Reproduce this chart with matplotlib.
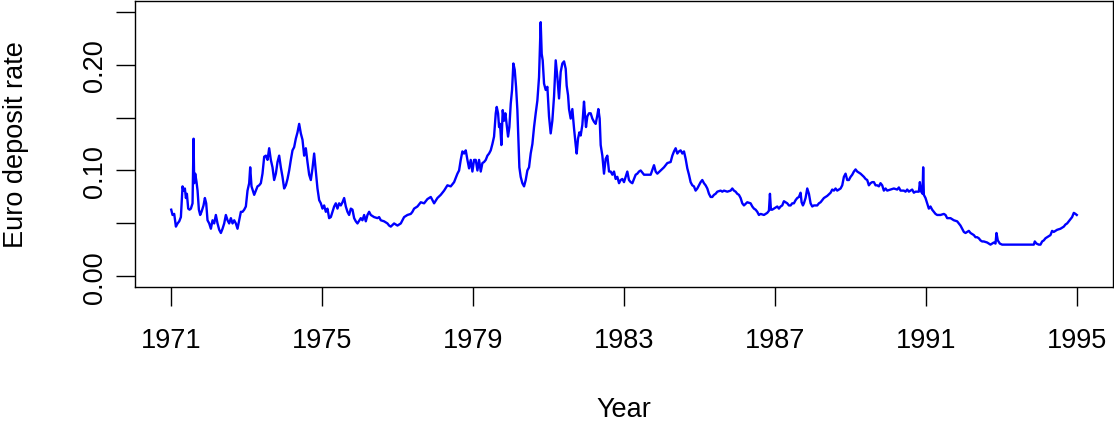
import matplotlib
matplotlib.use("Agg")
import matplotlib.pyplot as plt
import numpy as np

year = [
    1971.000, 1971.035, 1971.079, 1971.124, 1971.168, 1971.212, 1971.256, 1971.300,
    1971.327, 1971.362, 1971.389, 1971.415, 1971.450, 1971.486, 1971.521, 1971.565,
    1971.592, 1971.609, 1971.636, 1971.671, 1971.698, 1971.733, 1971.768, 1971.803,
    1971.856, 1971.892, 1971.927, 1971.962, 1972.007, 1972.051, 1972.095, 1972.139,
    1972.183, 1972.227, 1972.272, 1972.316, 1972.360, 1972.404, 1972.448, 1972.492,
    1972.536, 1972.581, 1972.625, 1972.669, 1972.713, 1972.757, 1972.801, 1972.846,
    1972.890, 1972.934, 1972.978, 1973.022, 1973.066, 1973.093, 1973.128, 1973.163,
    1973.199, 1973.243, 1973.287, 1973.331, 1973.375, 1973.419, 1973.464, 1973.508,
    1973.552, 1973.596, 1973.640, 1973.684, 1973.728, 1973.773, 1973.817, 1973.861,
    1973.905, 1973.949, 1973.993, 1974.038, 1974.082, 1974.126, 1974.170, 1974.214,
    1974.258, 1974.302, 1974.347, 1974.391, 1974.435, 1974.479, 1974.523, 1974.567,
    1974.611, 1974.656, 1974.700, 1974.744, 1974.788, 1974.832, 1974.876, 1974.921,
    1974.965, 1975.009, 1975.053, 1975.097, 1975.141, 1975.185, 1975.230, 1975.274,
    1975.318, 1975.362, 1975.406, 1975.450, 1975.495, 1975.539, 1975.583, 1975.627,
    1975.671, 1975.715, 1975.760, 1975.804, 1975.848, 1975.892, 1975.936, 1976.024,
    1976.068, 1976.113, 1976.157, 1976.201, 1976.245, 1976.289, 1976.377, 1976.466,
    1976.510, 1976.554, 1976.642, 1976.731, 1976.775, 1976.819, 1976.907, 1976.996,
    1977.084, 1977.172, 1977.260, 1977.349, 1977.393, 1977.437, 1977.525, 1977.614,
    1977.702, 1977.790, 1977.879, 1977.967, 1978.055, 1978.143, 1978.232, 1978.320,
    1978.408, 1978.497, 1978.585, 1978.629, 1978.673, 1978.717, 1978.762, 1978.806,
    1978.850, 1978.894, 1978.938, 1978.982, 1979.026, 1979.071, 1979.115, 1979.159,
    1979.203, 1979.247, 1979.291, 1979.336, 1979.380, 1979.424, 1979.468, 1979.512,
    1979.556, 1979.601, 1979.627, 1979.662, 1979.689, 1979.715, 1979.750, 1979.786,
    1979.821, 1979.856, 1979.892, 1979.927, 1979.962, 1979.998, 1980.033, 1980.068,
    1980.104, 1980.139, 1980.174, 1980.201, 1980.227, 1980.262, 1980.306, 1980.351,
    1980.395, 1980.439, 1980.483, 1980.527, 1980.572, 1980.616, 1980.660, 1980.704,
    1980.748, 1980.792, 1980.819, 1980.845, 1980.881, 1980.925, 1980.969, 1981.013,
    1981.057, 1981.101, 1981.146, 1981.190, 1981.234, 1981.278, 1981.322, 1981.366,
    1981.411, 1981.455, 1981.481, 1981.517, 1981.543, 1981.587, 1981.631, 1981.675,
    1981.720, 1981.746, 1981.781, 1981.817, 1981.852, 1981.896, 1981.940, 1981.967,
    1981.993, 1982.028, 1982.073, 1982.117, 1982.161, 1982.205, 1982.249, 1982.293,
    1982.320, 1982.355, 1982.382, 1982.426, 1982.470, 1982.514, 1982.558, 1982.603,
    1982.647, 1982.691, 1982.735, 1982.779, 1982.823, 1982.868, 1982.912, 1982.956,
    1983.000, 1983.044, 1983.088, 1983.132, 1983.177, 1983.221, 1983.265, 1983.309,
    1983.353, 1983.397, 1983.442, 1983.530, 1983.618, 1983.707, 1983.795, 1983.839,
    1983.883, 1983.972, 1984.060, 1984.148, 1984.236, 1984.281, 1984.325, 1984.369,
    1984.413, 1984.457, 1984.501, 1984.546, 1984.590, 1984.634, 1984.678, 1984.722,
    1984.766, 1984.810, 1984.854, 1984.898, 1984.943, 1984.987, 1985.031, 1985.075,
    1985.119, 1985.163, 1985.208, 1985.252, 1985.296, 1985.340, 1985.384, 1985.428,
    1985.473, 1985.561, 1985.605, 1985.649, 1985.738, 1985.826, 1985.870, 1985.914,
    1985.958, 1986.002, 1986.046, 1986.091, 1986.135, 1986.179, 1986.267, 1986.356,
    1986.400, 1986.444, 1986.488, 1986.532, 1986.576, 1986.621, 1986.709, 1986.753,
    1986.797, 1986.841, 1986.868, 1986.894, 1986.929, 1986.974, 1987.062, 1987.106,
    1987.150, 1987.194, 1987.238, 1987.283, 1987.327, 1987.371, 1987.415, 1987.459,
    1987.503, 1987.548, 1987.592, 1987.636, 1987.680, 1987.707, 1987.742, 1987.768,
    1987.812, 1987.857, 1987.901, 1987.945, 1987.989, 1988.033, 1988.121, 1988.166,
    1988.210, 1988.298, 1988.386, 1988.475, 1988.519, 1988.563, 1988.607, 1988.651,
    1988.740, 1988.784, 1988.828, 1988.872, 1988.916, 1988.960, 1989.005, 1989.049,
    1989.093, 1989.137, 1989.181, 1989.269, 1989.358, 1989.402, 1989.446, 1989.490,
    1989.534, 1989.578, 1989.623, 1989.667, 1989.711, 1989.755, 1989.799, 1989.843,
    1989.887, 1989.932, 1989.976, 1990.064, 1990.152, 1990.241, 1990.285, 1990.329,
    1990.417, 1990.462, 1990.506, 1990.550, 1990.594, 1990.638, 1990.682, 1990.726,
    1990.771, 1990.815, 1990.841, 1990.876, 1990.912, 1990.929, 1990.947, 1990.991,
    1991.035, 1991.079, 1991.123, 1991.167, 1991.212, 1991.256, 1991.300, 1991.388,
    1991.477, 1991.521, 1991.565, 1991.653, 1991.742, 1991.830, 1991.874, 1991.918,
    1991.962, 1992.007, 1992.051, 1992.095, 1992.139, 1992.183, 1992.227, 1992.272,
    1992.316, 1992.360, 1992.404, 1992.448, 1992.492, 1992.536, 1992.625, 1992.669,
    1992.713, 1992.757, 1992.801, 1992.846, 1992.872, 1992.907, 1992.960, 1993.022,
    1993.243, 1993.419, 1993.596, 1993.773, 1993.861, 1993.887, 1993.932, 1993.993,
    1994.038, 1994.082, 1994.126, 1994.170, 1994.214, 1994.302, 1994.346, 1994.391,
    1994.479, 1994.567, 1994.611, 1994.656, 1994.700, 1994.744, 1994.788, 1994.832,
    1994.876, 1994.921, 1994.965, 1995.000,
]

rate = [
    0.063, 0.058, 0.059, 0.047, 0.050, 0.052, 0.056, 0.085,
    0.081, 0.083, 0.074, 0.078, 0.064, 0.063, 0.064, 0.069,
    0.130, 0.088, 0.097, 0.089, 0.081, 0.063, 0.058, 0.061,
    0.067, 0.074, 0.069, 0.053, 0.050, 0.045, 0.053, 0.050,
    0.058, 0.050, 0.044, 0.041, 0.045, 0.050, 0.058, 0.053,
    0.050, 0.055, 0.050, 0.053, 0.050, 0.045, 0.053, 0.061,
    0.061, 0.063, 0.066, 0.081, 0.088, 0.103, 0.085, 0.081,
    0.077, 0.081, 0.085, 0.086, 0.088, 0.097, 0.113, 0.114,
    0.110, 0.121, 0.110, 0.103, 0.091, 0.097, 0.108, 0.114,
    0.103, 0.094, 0.083, 0.086, 0.092, 0.100, 0.110, 0.119,
    0.122, 0.130, 0.136, 0.144, 0.135, 0.129, 0.114, 0.121,
    0.108, 0.096, 0.091, 0.102, 0.116, 0.099, 0.083, 0.072,
    0.069, 0.064, 0.067, 0.061, 0.064, 0.055, 0.056, 0.061,
    0.066, 0.069, 0.064, 0.069, 0.067, 0.070, 0.074, 0.066,
    0.061, 0.058, 0.064, 0.063, 0.055, 0.052, 0.050, 0.055,
    0.053, 0.058, 0.052, 0.058, 0.061, 0.058, 0.056, 0.055,
    0.056, 0.053, 0.052, 0.050, 0.048, 0.047, 0.050, 0.048,
    0.050, 0.056, 0.058, 0.059, 0.061, 0.064, 0.066, 0.070,
    0.069, 0.073, 0.075, 0.069, 0.074, 0.077, 0.081, 0.086,
    0.085, 0.089, 0.097, 0.100, 0.110, 0.118, 0.116, 0.119,
    0.110, 0.102, 0.110, 0.099, 0.110, 0.110, 0.100, 0.110,
    0.099, 0.107, 0.108, 0.110, 0.114, 0.116, 0.119, 0.125,
    0.132, 0.154, 0.160, 0.154, 0.141, 0.144, 0.124, 0.157,
    0.147, 0.154, 0.143, 0.132, 0.141, 0.163, 0.176, 0.201,
    0.195, 0.179, 0.157, 0.129, 0.103, 0.094, 0.088, 0.085,
    0.091, 0.100, 0.103, 0.116, 0.125, 0.141, 0.154, 0.166,
    0.188, 0.240, 0.210, 0.204, 0.182, 0.176, 0.179, 0.151,
    0.135, 0.147, 0.170, 0.204, 0.188, 0.168, 0.193, 0.201,
    0.203, 0.196, 0.180, 0.171, 0.158, 0.149, 0.158, 0.140,
    0.124, 0.116, 0.130, 0.136, 0.133, 0.143, 0.165, 0.152,
    0.141, 0.151, 0.154, 0.154, 0.149, 0.146, 0.144, 0.152,
    0.158, 0.149, 0.124, 0.114, 0.097, 0.111, 0.114, 0.099,
    0.099, 0.096, 0.099, 0.092, 0.094, 0.088, 0.091, 0.092,
    0.089, 0.094, 0.099, 0.091, 0.089, 0.088, 0.092, 0.096,
    0.097, 0.099, 0.100, 0.096, 0.096, 0.096, 0.105, 0.099,
    0.097, 0.100, 0.103, 0.107, 0.108, 0.114, 0.118, 0.121,
    0.116, 0.118, 0.119, 0.116, 0.118, 0.111, 0.102, 0.096,
    0.089, 0.086, 0.085, 0.081, 0.083, 0.086, 0.089, 0.091,
    0.088, 0.086, 0.083, 0.078, 0.075, 0.075, 0.077, 0.078,
    0.080, 0.081, 0.080, 0.081, 0.080, 0.081, 0.083, 0.081,
    0.080, 0.078, 0.077, 0.074, 0.069, 0.067, 0.070, 0.069,
    0.066, 0.064, 0.063, 0.061, 0.058, 0.059, 0.058, 0.059,
    0.060, 0.062, 0.078, 0.063, 0.063, 0.064, 0.066, 0.064,
    0.066, 0.067, 0.071, 0.070, 0.069, 0.067, 0.067, 0.069,
    0.069, 0.072, 0.074, 0.075, 0.079, 0.070, 0.067, 0.069,
    0.074, 0.083, 0.078, 0.069, 0.066, 0.067, 0.067, 0.069,
    0.070, 0.074, 0.076, 0.079, 0.082, 0.081, 0.083, 0.081,
    0.083, 0.086, 0.094, 0.097, 0.091, 0.091, 0.094, 0.096,
    0.099, 0.101, 0.099, 0.097, 0.094, 0.092, 0.091, 0.086,
    0.088, 0.089, 0.089, 0.086, 0.086, 0.085, 0.088, 0.086,
    0.081, 0.083, 0.081, 0.082, 0.083, 0.082, 0.084, 0.081,
    0.081, 0.080, 0.082, 0.080, 0.081, 0.082, 0.079, 0.080,
    0.080, 0.080, 0.089, 0.080, 0.078, 0.103, 0.077, 0.074,
    0.069, 0.064, 0.066, 0.063, 0.061, 0.059, 0.058, 0.058,
    0.059, 0.058, 0.055, 0.055, 0.053, 0.052, 0.050, 0.048,
    0.045, 0.042, 0.041, 0.042, 0.043, 0.041, 0.040, 0.039,
    0.037, 0.037, 0.036, 0.034, 0.033, 0.033, 0.032, 0.031,
    0.030, 0.031, 0.032, 0.031, 0.041, 0.034, 0.031, 0.030,
    0.030, 0.030, 0.030, 0.030, 0.030, 0.033, 0.031, 0.030,
    0.030, 0.033, 0.034, 0.036, 0.037, 0.039, 0.043, 0.042,
    0.044, 0.045, 0.046, 0.047, 0.049, 0.050, 0.052, 0.054,
    0.056, 0.060, 0.059, 0.058,
]

tick_years = [1971, 1975, 1979, 1983, 1987, 1991, 1995]
rate_ticks = [0.00, 0.05, 0.10, 0.15, 0.20, 0.25]
rate_labels = ["0.00", "", "0.10", "", "0.20", ""]

plt.rcParams["font.family"] = ["Liberation Sans", "DejaVu Sans"]
fs = 19.5

fig = plt.figure(figsize=(11.14, 4.27), dpi=100)
ax = fig.add_axes([135 / 1114, 139 / 427, 978 / 1114, 286 / 427])

ax.plot(year, rate, color="#0000ff", linewidth=1.7, solid_joinstyle="round")

# R-style 4% padding around the data range
ax.set_xlim(1971 - 0.04 * 24, 1995 + 0.04 * 24)
ax.set_ylim(0 - 0.04 * 0.25, 0.25 + 0.04 * 0.25)

ax.set_xticks(tick_years)
ax.set_xticklabels([str(y) for y in tick_years], fontsize=fs)
ax.set_yticks(rate_ticks)
ax.set_yticklabels(rate_labels, fontsize=fs, rotation=90, va="center")

ax.tick_params(axis="both", direction="out", length=13.5, width=1.0, color="black")
ax.tick_params(axis="x", pad=15)
ax.tick_params(axis="y", pad=6)
for s in ax.spines.values():
    s.set_linewidth(1.0)
    s.set_color("black")

fig.text(624 / 1114, 1 - 410 / 427, "Year", fontsize=fs, ha="center", va="center")
fig.text(16 / 1114, 1 - 145 / 427, "Euro deposit rate", fontsize=fs,
         rotation=90, ha="center", va="center")

fig.savefig("out.png", dpi=100)
